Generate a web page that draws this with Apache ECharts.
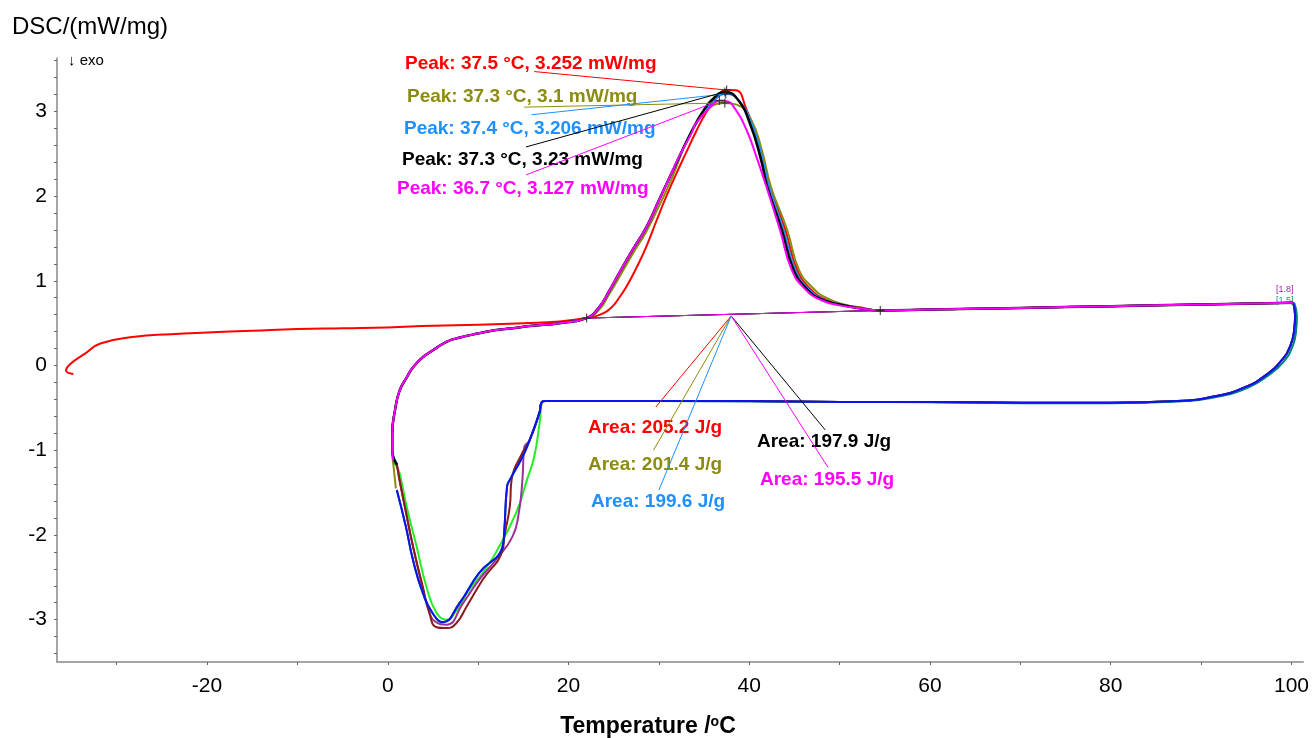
<!DOCTYPE html>
<html>
<head>
<meta charset="utf-8">
<script src="https://cdn.jsdelivr.net/npm/echarts@6/dist/echarts.min.js"></script>
<style>
  html, body { margin: 0; padding: 0; background: #fff; }
  #chart { width: 1312px; height: 738px; }
</style>
</head>
<body>
<div id="chart"></div>
<script>
// axis ticks / labels
const xTicks = [-30, -20, -10, 0, 10, 20, 30, 40, 50, 60, 70, 80, 90, 100]
const xLabels = [-20, 0, 20, 40, 60, 80, 100]
const yTicks = [-3.4, -3.2, -3, -2.8, -2.6, -2.4, -2.2, -2, -1.8, -1.6, -1.4, -1.2, -1, -0.8, -0.6, -0.4, -0.2, 0,
  0.2, 0.4, 0.6, 0.8, 1, 1.2, 1.4, 1.6, 1.8, 2, 2.2, 2.4, 2.6, 2.8, 3, 3.2, 3.4, 3.6]
const yLabels = [-3, -2, -1, 0, 1, 2, 3]

// heating, first run (red) starts at -35 °C
const redStart = [[-34.8, -0.1], [-35.6, -0.06], [-35.1, 0.02], [-33.5, 0.14], [-31.8, 0.26], [-28, 0.34], [-24, 0.37],
  [-20, 0.39], [-15, 0.41], [-10, 0.43], [-5, 0.44], [0, 0.45], [5, 0.47], [10, 0.48], [15, 0.5], [19, 0.52], [22, 0.56]]
// heating runs 2-5 start near 0 °C
const heatStart = [[0.5, -1.0], [0.5, -0.8], [0.8, -0.53], [1.3, -0.3], [2.1, -0.14], [2.8, -0.02], [3.9, 0.1], [5, 0.18],
  [6.5, 0.28], [8, 0.33], [10.1, 0.38], [12, 0.42], [13.8, 0.44], [16, 0.47], [19, 0.5], [22, 0.56]]
const heatTail = [[54.5, 0.65], [60, 0.66], [70, 0.68], [80, 0.7], [90, 0.72], [100.2, 0.74]]

// melting peaks
const redPeak = [[23.5, 0.6], [24.8, 0.69], [25.6, 0.8], [26.4, 0.93], [27.5, 1.15], [28.6, 1.4], [29.7, 1.7], [30.8, 1.99],
  [32, 2.28], [33, 2.51], [34.2, 2.78], [35.2, 2.98], [36.3, 3.15], [37.5, 3.252], [38.5, 3.25], [39.7, 3.02],
  [41.1, 2.62], [42.2, 2.15], [44, 1.6], [45.3, 1.13], [46.8, 0.9], [48.4, 0.78], [50.2, 0.72], [52, 0.69]]
const olivePeak = [[23.4, 0.66], [24.5, 0.84], [25.6, 1.04], [27, 1.3], [28.6, 1.58], [30, 1.88], [31.4, 2.2], [33.4, 2.72],
  [35.2, 3.0], [36.5, 3.09], [37.3, 3.1], [38.6, 3.08], [40.2, 2.9], [41.4, 2.54], [42.4, 2.11], [44.2, 1.6],
  [45.5, 1.13], [47, 0.92], [48.5, 0.8], [50.5, 0.72], [52.5, 0.68]]
const bluePeak = [[23.4, 0.69], [24.5, 0.88], [25.6, 1.09], [27, 1.35], [28.6, 1.63], [30, 1.95], [31.4, 2.27], [33.6, 2.75],
  [35, 3.0], [36.3, 3.15], [37.4, 3.206], [38.9, 3.12], [40.4, 2.82], [41.5, 2.43], [42.2, 2.11], [43.8, 1.6],
  [45.1, 1.13], [46.6, 0.9], [48.2, 0.78], [50, 0.72], [52, 0.68]]
const blackPeak = [[23.4, 0.69], [24.5, 0.88], [25.6, 1.09], [27, 1.35], [28.6, 1.63], [30, 1.95], [31.4, 2.27], [33.6, 2.76],
  [35, 3.02], [36.2, 3.17], [37.3, 3.23], [38.8, 3.13], [40.2, 2.82], [41.3, 2.43], [42, 2.11], [43.6, 1.6],
  [44.9, 1.13], [46.4, 0.9], [48, 0.78], [50, 0.72], [52, 0.68]]
const magentaPeak = [[23.4, 0.69], [24.5, 0.88], [25.6, 1.09], [27, 1.35], [28.6, 1.63], [30, 1.95], [31.4, 2.27], [32.2, 2.46],
  [33.6, 2.74], [34.1, 2.86], [35.9, 3.07], [36.7, 3.127], [37.5, 3.12], [38.3, 3.05], [39.7, 2.78], [40.9, 2.43],
  [41.9, 2.11], [43.4, 1.6], [44.7, 1.13], [46.2, 0.9], [48, 0.77], [50, 0.71], [52, 0.68]]

// cooling: turn at 100 °C and flat part down to 17 °C
const coolHead = [[100.2, 0.74], [100.4, 0.59], [100.3, 0.42], [99.9, 0.24], [98.9, 0.06], [97.2, -0.11], [95, -0.25],
  [91.7, -0.36], [87.3, -0.42], [80, -0.44], [70, -0.44], [60, -0.43], [50, -0.43], [40, -0.42], [30, -0.42], [20, -0.42], [17.4, -0.42]]
const coolHeadTeal = [[100.3, 0.74], [100.6, 0.58], [100.5, 0.4], [100.1, 0.22], [99.1, 0.04], [97.4, -0.12], [95.2, -0.26],
  [91.8, -0.37], [87.3, -0.425], [80, -0.445], [70, -0.445], [60, -0.435], [50, -0.43], [40, -0.425], [30, -0.42], [20, -0.42], [17.4, -0.42]]

// crystallisation dips
const greenDip = [[17.1, -0.43], [16.8, -0.68], [16.2, -1.08], [15.4, -1.35], [14.2, -1.74], [12, -2.2], [10.5, -2.45], [9, -2.65],
  [7.6, -2.89], [6.5, -3.0], [5.4, -2.92], [4.3, -2.62], [3.2, -2.14], [2.1, -1.67], [1.3, -1.27], [1.0, -1.2], [0.6, -1.12]]
const maroonDip = [[17.0, -0.44], [16.8, -0.55], [15.7, -0.88], [14.9, -1.03], [13.7, -1.35], [13.5, -1.67], [12.9, -2.02],
  [12.7, -2.18], [10.5, -2.53], [8.7, -2.85], [7.6, -3.04], [6.5, -3.1], [5.4, -3.09], [4.6, -2.92], [3.9, -2.62],
  [2.8, -2.14], [1.9, -1.67], [1.3, -1.35], [1.0, -1.15]]
const blueDip = [[17.0, -0.44], [16.8, -0.55], [15.7, -0.88], [14.9, -1.08], [13.5, -1.35], [13.2, -1.43], [12.9, -1.94],
  [12.7, -2.14], [10.1, -2.45], [7.9, -2.81], [6.1, -3.03], [5.0, -2.93], [3.9, -2.69], [2.8, -2.3], [2.0, -1.9], [1.0, -1.47]]
const purpleDip = [[17.0, -0.44], [16.8, -0.55], [15.7, -0.88], [15.1, -0.97], [14.9, -1.35], [14.5, -1.74], [13.8, -2.02],
  [12, -2.29], [10.1, -2.53], [8.3, -2.81], [6.5, -3.06], [5.2, -3.02], [4.5, -2.88], [3.8, -2.6], [2.8, -2.14],
  [1.9, -1.67], [1.3, -1.35], [1.0, -1.17]]

// where each heating run picks up after the cooling run
const oliveLead = [[0.9, -1.45], [0.7, -1.25]]
const blueLead = [[1.0, -1.15]]
const blackLead = [[1.0, -1.17]]
const magentaLead = [[0.6, -1.12]]

// peak / integration markers
const peakPoints = [[37.5, 3.252], [37.3, 3.1], [37.4, 3.206], [37.3, 3.23], [36.7, 3.127]]
const limitPoints = [[22, 0.56], [54.5, 0.65]]

// annotations
const peakTexts = ['Peak: 37.5 °C, 3.252 mW/mg', 'Peak: 37.3 °C, 3.1 mW/mg', 'Peak: 37.4 °C, 3.206 mW/mg',
  'Peak: 37.3 °C, 3.23 mW/mg', 'Peak: 36.7 °C, 3.127 mW/mg']
const peakLeadStart = [[16.2, 3.47], [15.1, 3.05], [15.9, 2.96], [15.3, 2.58], [15.3, 2.25]]
const areaTexts = ['Area: 205.2 J/g', 'Area: 201.4 J/g', 'Area: 199.6 J/g', 'Area: 197.9 J/g', 'Area: 195.5 J/g']
const areaHub = [38.0, 0.585]
const areaLeadEnd = [[29.66, -0.49], [29.4, -1.0], [30.0, -1.47], [48.4, -0.76], [48.7, -1.2]]

const heatColors = ['#ff0000', '#8c8c10', '#1e90ff', '#000000', '#ff00ff']
const peakTextPos = [[405, 64], [407, 97], [404, 129], [402, 160], [397, 189]]
const areaTextPos = [[588, 428], [588, 465], [591, 502], [757, 442], [760, 480]]

const font = '"Liberation Sans", Arial, sans-serif'

function curve(name, data, color, width) {
  return {
    name, type: 'line', data, smooth: 0.5, symbol: 'none', silent: true,
    lineStyle: { color, width: width || 2 },
  }
}
function thin(data, color) {
  return {
    type: 'line', data, symbol: 'none', silent: true,
    lineStyle: { color, width: 1 },
  }
}

const series = [
  curve('cool5', coolHead.concat(greenDip), '#22ee22'),
  curve('cool4', coolHead.concat(purpleDip), '#993399'),
  curve('cool3', coolHead.concat(maroonDip), '#8b1a1a'),
  curve('cool1', coolHeadTeal.concat(blueDip), '#008080'),
  curve('cool2', coolHead.concat(blueDip), '#1010ee'),
  curve('heat1', redStart.concat(redPeak, heatTail), heatColors[0]),
  curve('heat2', oliveLead.concat(heatStart, olivePeak, heatTail), heatColors[1]),
  curve('heat3', blueLead.concat(heatStart, bluePeak, heatTail), heatColors[2]),
  curve('heat4', blackLead.concat(heatStart, blackPeak, heatTail), heatColors[3], 2.5),
  curve('heat5', magentaLead.concat(heatStart, magentaPeak, heatTail), heatColors[4]),
]
heatColors.forEach((c, i) => {
  series.push(thin(limitPoints, c))
  series.push(thin([peakLeadStart[i], peakPoints[i]], c))
  series.push(thin([areaHub, areaLeadEnd[i]], c))
})
series.push({
  type: 'scatter', data: peakPoints.concat(limitPoints), silent: true,
  symbol: 'path://M5,0L5,10M0,5L10,5', symbolSize: 9,
  itemStyle: { color: 'rgba(0,0,0,0)', borderColor: '#222', borderWidth: 1.2 },
  z: 5,
})

const graphic = [
  { type: 'text', x: 12, y: 27, style: { text: 'DSC/(mW/mg)', font: '24px ' + font, fill: '#000', verticalAlign: 'middle' } },
  { type: 'text', x: 68, y: 61, style: { text: '↓ exo', font: '15px ' + font, fill: '#000', verticalAlign: 'middle' } },
  {
    type: 'text', x: 648, y: 727,
    style: {
      text: '{a|Temperature /}{s|o}{a|C}', align: 'center', verticalAlign: 'middle',
      rich: {
        a: { fontFamily: font, fontSize: 23, fontWeight: 'bold', fill: '#000' },
        s: { fontFamily: font, fontSize: 14, fontWeight: 'bold', fill: '#000', verticalAlign: 'top', padding: [0, 0, 6, 0] },
      },
    },
  },
  { type: 'text', x: 1276, y: 290, style: { text: '[1.8]', font: '9px ' + font, fill: '#aa22aa', verticalAlign: 'middle' } },
  { type: 'text', x: 1276, y: 301, style: { text: '[1.5]', font: '9px ' + font, fill: '#119977', verticalAlign: 'middle' } },
]
peakTexts.forEach((t, i) => {
  graphic.push({ type: 'text', x: peakTextPos[i][0], y: peakTextPos[i][1],
    style: { text: t, font: 'bold 19px ' + font, fill: heatColors[i], verticalAlign: 'middle' } })
})
areaTexts.forEach((t, i) => {
  graphic.push({ type: 'text', x: areaTextPos[i][0], y: areaTextPos[i][1],
    style: { text: t, font: 'bold 19px ' + font, fill: heatColors[i], verticalAlign: 'middle' } })
})

const axisLine = { show: true, onZero: false, lineStyle: { color: '#888', width: 1.5 } }

const option = {
  animation: false,
  grid: { left: 57, right: 7, top: 58, bottom: 76 },
  xAxis: {
    type: 'value', min: -36.6, max: 101.3,
    axisLine,
    axisTick: { show: true, customValues: xTicks, length: 3, lineStyle: { color: '#666' } },
    axisLabel: { customValues: xLabels, fontSize: 21, fontFamily: font, color: '#000', margin: 14 },
    splitLine: { show: false },
  },
  yAxis: {
    type: 'value', min: -3.5, max: 3.63,
    axisLine,
    axisTick: { show: true, customValues: yTicks, length: 3, lineStyle: { color: '#666' } },
    axisLabel: { customValues: yLabels, fontSize: 21, fontFamily: font, color: '#000', margin: 10 },
    splitLine: { show: false },
  },
  series,
  graphic,
}

const myChart = echarts.init(document.getElementById('chart'), null, { renderer: 'canvas' })
myChart.setOption(option)
</script>
</body>
</html>
